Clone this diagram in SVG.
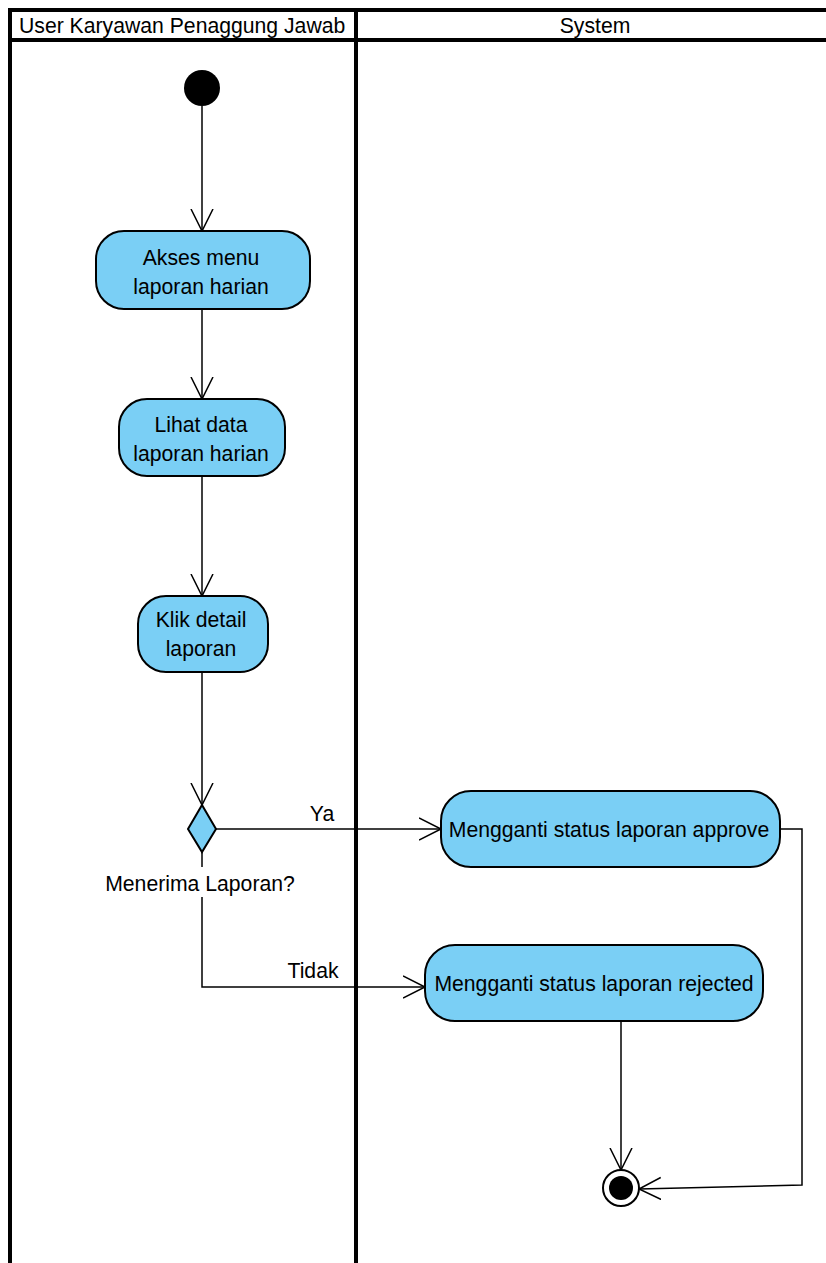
<svg xmlns="http://www.w3.org/2000/svg" width="826" height="1263" viewBox="0 0 826 1263">
<defs>
<style>
.lane{stroke:#000;stroke-width:4;fill:none}
.act{fill:#7acff5;stroke:#000;stroke-width:2}
.t{font-family:"Liberation Sans",Arial,sans-serif;font-size:21.2px;fill:#000;text-anchor:middle}
.h{font-family:"Liberation Sans",Arial,sans-serif;font-size:21.2px;fill:#000}
.c{stroke:#000;stroke-width:1.5;fill:none}
</style>
<marker id="arr" markerWidth="24" markerHeight="24" refX="22" refY="12" orient="auto" markerUnits="userSpaceOnUse">
<path d="M0,1 L22,12 L0,23" fill="none" stroke="#000" stroke-width="1.5"/>
</marker>
</defs>
<rect width="826" height="1263" fill="#fff"/>
<g id="swimlanes">
<line class="lane" x1="10" y1="10" x2="826" y2="10"/>
<line class="lane" x1="10" y1="40" x2="826" y2="40"/>
<line class="lane" x1="10" y1="8" x2="10" y2="1263"/>
<line class="lane" x1="356" y1="8" x2="356" y2="1263"/>
<text class="h" x="19" y="33">User Karyawan Penaggung Jawab</text>
<text class="t" x="595" y="33">System</text>
</g>
<g id="connectors">
<line class="c" x1="202" y1="106" x2="202" y2="231" marker-end="url(#arr)"/>
<line class="c" x1="202" y1="309" x2="202" y2="399" marker-end="url(#arr)"/>
<line class="c" x1="202" y1="476" x2="202" y2="596" marker-end="url(#arr)"/>
<line class="c" x1="202" y1="672" x2="202" y2="805" marker-end="url(#arr)"/>
<line class="c" x1="216" y1="829" x2="441" y2="829" marker-end="url(#arr)"/>
<text class="t" x="322" y="821">Ya</text>
<line class="c" x1="202" y1="852" x2="202" y2="867"/>
<polyline class="c" points="202,897 202,987 425,987" marker-end="url(#arr)"/>
<text class="t" x="313" y="978">Tidak</text>
<line class="c" x1="621" y1="1021" x2="621" y2="1170" marker-end="url(#arr)"/>
<polyline class="c" points="780,829 802,829 802,1185 639,1189" marker-end="url(#arr)"/>
</g>
<g id="start">
<circle cx="202" cy="88" r="18" fill="#000"/>
</g>
<g id="akses">
<rect class="act" x="96" y="231" width="214" height="78" rx="28"/>
<text class="t" x="201" y="265">Akses menu</text>
<text class="t" x="201" y="294">laporan harian</text>
</g>
<g id="lihat">
<rect class="act" x="119" y="399" width="166" height="77" rx="28"/>
<text class="t" x="201" y="432">Lihat data</text>
<text class="t" x="201" y="461">laporan harian</text>
</g>
<g id="klik">
<rect class="act" x="138" y="596" width="130" height="76" rx="28"/>
<text class="t" x="201" y="627">Klik detail</text>
<text class="t" x="201" y="656">laporan</text>
</g>
<g id="decision">
<polygon class="act" points="202,805 216,829 202,852 188,829"/>
<text class="t" x="200" y="891">Menerima Laporan?</text>
</g>
<g id="approve">
<rect class="act" x="441" y="791" width="339" height="76" rx="30"/>
<text class="t" x="609" y="837">Mengganti status laporan approve</text>
</g>
<g id="rejected">
<rect class="act" x="425" y="945" width="338" height="76" rx="30"/>
<text class="t" x="594" y="991">Mengganti status laporan rejected</text>
</g>
<g id="end">
<circle cx="621" cy="1188" r="18" fill="#fff" stroke="#000" stroke-width="2"/>
<circle cx="621" cy="1188" r="12" fill="#000"/>
</g>
</svg>
